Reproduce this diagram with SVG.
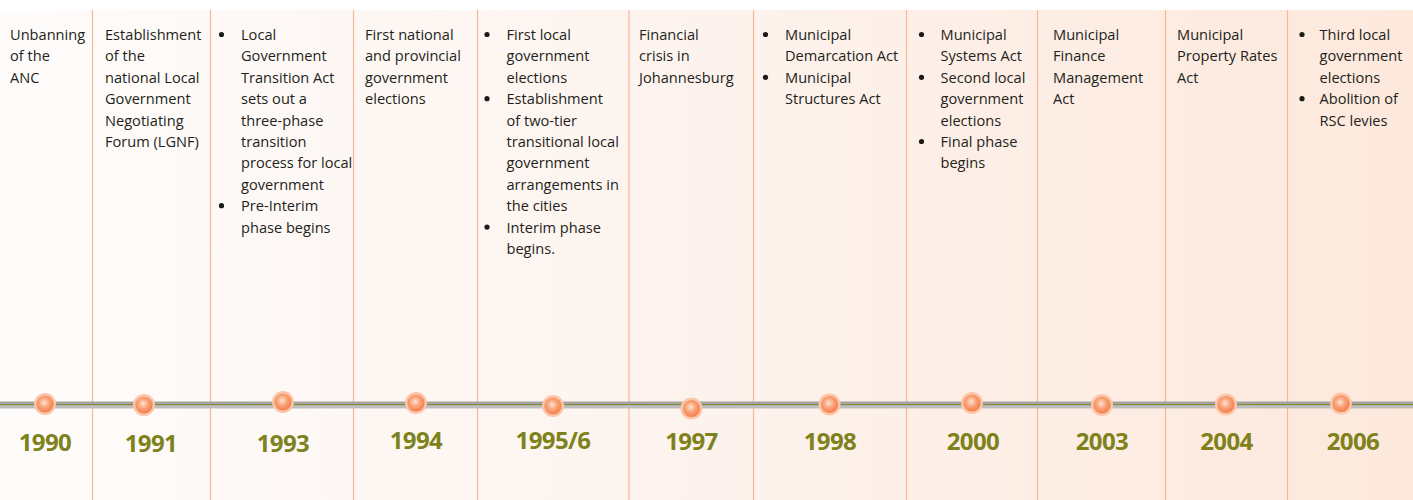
<svg xmlns="http://www.w3.org/2000/svg" width="1413" height="500" viewBox="0 0 1413 500">
  <defs>
    <linearGradient id="bg" x1="0" y1="0" x2="1" y2="0">
      <stop offset="0" stop-color="#fefcfb"/>
      <stop offset="0.45" stop-color="#fdf4ef"/>
      <stop offset="1" stop-color="#fde8dc"/>
    </linearGradient>
    <linearGradient id="bar" x1="0" y1="0" x2="0" y2="1">
      <stop offset="0" stop-color="#a3a3a3"/>
      <stop offset="0.42" stop-color="#a6a6a6"/>
      <stop offset="0.42" stop-color="#82892f"/>
      <stop offset="0.56" stop-color="#82892f"/>
      <stop offset="0.56" stop-color="#b6b6b6"/>
      <stop offset="1" stop-color="#c2c2c2"/>
    </linearGradient>
    <radialGradient id="knob" cx="0.45" cy="0.42" r="0.6">
      <stop offset="0" stop-color="#fde3d3"/>
      <stop offset="0.45" stop-color="#f9a77e"/>
      <stop offset="1" stop-color="#f37a45"/>
    </radialGradient>
    <g id="marker">
      <circle r="11" fill="#fbc6a9"/>
      <circle r="8.6" fill="url(#knob)"/>
    </g>
  </defs>
  <style>
    .t { font-family: "Open Sans", "Liberation Sans", sans-serif; font-size: 14.6px; fill: #231f20; }
    .yr { font-family: "Open Sans", "Liberation Sans", sans-serif; font-size: 24px; font-weight: bold; fill: #7d821c; text-anchor: middle; letter-spacing: -0.6px; }
    .div { stroke: #f9b595; stroke-width: 1.2; }
    .dot { fill: #1a1a1a; }
  </style>

  <!-- backdrop -->
  <rect x="0" y="0" width="1413" height="500" fill="#ffffff"/>
  <rect x="0" y="10" width="1413" height="490" fill="url(#bg)"/>

  <!-- column dividers -->
  <g id="dividers">
    <line class="div" x1="92.5" y1="10" x2="92.5" y2="500"/>
    <line class="div" x1="210.5" y1="10" x2="210.5" y2="500"/>
    <line class="div" x1="353.5" y1="10" x2="353.5" y2="500"/>
    <line class="div" x1="477.5" y1="10" x2="477.5" y2="500"/>
    <line class="div" x1="629" y1="10" x2="629" y2="500"/>
    <line class="div" x1="753.5" y1="10" x2="753.5" y2="500"/>
    <line class="div" x1="906.5" y1="10" x2="906.5" y2="500"/>
    <line class="div" x1="1037.5" y1="10" x2="1037.5" y2="500"/>
    <line class="div" x1="1165.5" y1="10" x2="1165.5" y2="500"/>
    <line class="div" x1="1287.5" y1="10" x2="1287.5" y2="500"/>
  </g>

  <!-- timeline axis -->
  <g id="connectors">
    <rect x="0" y="401.5" width="1413" height="7" fill="url(#bar)"/>
  </g>

  <g id="n1990">
    <text class="t" x="10" y="40">Unbanning</text>
    <text class="t" x="10" y="61.4">of the</text>
    <text class="t" x="10" y="82.8">ANC</text>
    <use href="#marker" x="45" y="404"/>
    <text class="yr" x="45" y="451">1990</text>
  </g>

  <g id="n1991">
    <text class="t" x="105" y="40">Establishment</text>
    <text class="t" x="105" y="61.4">of the</text>
    <text class="t" x="105" y="82.8">national Local</text>
    <text class="t" x="105" y="104.2">Government</text>
    <text class="t" x="105" y="125.6">Negotiating</text>
    <text class="t" x="105" y="147">Forum (LGNF)</text>
    <use href="#marker" x="144" y="405"/>
    <text class="yr" x="151" y="452">1991</text>
  </g>

  <g id="n1993">
    <circle class="dot" cx="221.5" cy="34.5" r="2.6"/>
    <text class="t" x="241" y="40">Local</text>
    <text class="t" x="241" y="61.4">Government</text>
    <text class="t" x="241" y="82.8">Transition Act</text>
    <text class="t" x="241" y="104.2">sets out a</text>
    <text class="t" x="241" y="125.6">three-phase</text>
    <text class="t" x="241" y="147">transition</text>
    <text class="t" x="241" y="168.4">process for local</text>
    <text class="t" x="241" y="189.8">government</text>
    <circle class="dot" cx="221.5" cy="205.7" r="2.6"/>
    <text class="t" x="241" y="211.2">Pre-Interim</text>
    <text class="t" x="241" y="232.6">phase begins</text>
    <use href="#marker" x="283" y="402"/>
    <text class="yr" x="283" y="452">1993</text>
  </g>

  <g id="n1994">
    <text class="t" x="365" y="40">First national</text>
    <text class="t" x="365" y="61.4">and provincial</text>
    <text class="t" x="365" y="82.8">government</text>
    <text class="t" x="365" y="104.2">elections</text>
    <use href="#marker" x="416" y="403"/>
    <text class="yr" x="416" y="449">1994</text>
  </g>

  <g id="n1995">
    <circle class="dot" cx="487" cy="34.5" r="2.6"/>
    <text class="t" x="506.5" y="40">First local</text>
    <text class="t" x="506.5" y="61.4">government</text>
    <text class="t" x="506.5" y="82.8">elections</text>
    <circle class="dot" cx="487" cy="98.7" r="2.6"/>
    <text class="t" x="506.5" y="104.2">Establishment</text>
    <text class="t" x="506.5" y="125.6">of two-tier</text>
    <text class="t" x="506.5" y="147">transitional local</text>
    <text class="t" x="506.5" y="168.4">government</text>
    <text class="t" x="506.5" y="189.8">arrangements in</text>
    <text class="t" x="506.5" y="211.2">the cities</text>
    <circle class="dot" cx="487" cy="227.1" r="2.6"/>
    <text class="t" x="506.5" y="232.6">Interim phase</text>
    <text class="t" x="506.5" y="254">begins.</text>
    <use href="#marker" x="553" y="406"/>
    <text class="yr" x="553" y="449">1995/6</text>
  </g>

  <g id="n1997">
    <text class="t" x="639" y="40">Financial</text>
    <text class="t" x="639" y="61.4">crisis in</text>
    <text class="t" x="639" y="82.8">Johannesburg</text>
    <use href="#marker" x="691.5" y="408.5"/>
    <text class="yr" x="691.5" y="450">1997</text>
  </g>

  <g id="n1998">
    <circle class="dot" cx="765.5" cy="34.5" r="2.6"/>
    <text class="t" x="785" y="40">Municipal</text>
    <text class="t" x="785" y="61.4">Demarcation Act</text>
    <circle class="dot" cx="765.5" cy="77.3" r="2.6"/>
    <text class="t" x="785" y="82.8">Municipal</text>
    <text class="t" x="785" y="104.2">Structures Act</text>
    <use href="#marker" x="829.5" y="404.5"/>
    <text class="yr" x="830" y="450">1998</text>
  </g>

  <g id="n2000">
    <circle class="dot" cx="921.5" cy="34.5" r="2.6"/>
    <text class="t" x="940.5" y="40">Municipal</text>
    <text class="t" x="940.5" y="61.4">Systems Act</text>
    <circle class="dot" cx="921.5" cy="77.3" r="2.6"/>
    <text class="t" x="940.5" y="82.8">Second local</text>
    <text class="t" x="940.5" y="104.2">government</text>
    <text class="t" x="940.5" y="125.6">elections</text>
    <circle class="dot" cx="921.5" cy="141.5" r="2.6"/>
    <text class="t" x="940.5" y="147">Final phase</text>
    <text class="t" x="940.5" y="168.4">begins</text>
    <use href="#marker" x="972" y="403"/>
    <text class="yr" x="973" y="450">2000</text>
  </g>

  <g id="n2003">
    <text class="t" x="1053" y="40">Municipal</text>
    <text class="t" x="1053" y="61.4">Finance</text>
    <text class="t" x="1053" y="82.8">Management</text>
    <text class="t" x="1053" y="104.2">Act</text>
    <use href="#marker" x="1102" y="405"/>
    <text class="yr" x="1102" y="450">2003</text>
  </g>

  <g id="n2004">
    <text class="t" x="1177" y="40">Municipal</text>
    <text class="t" x="1177" y="61.4">Property Rates</text>
    <text class="t" x="1177" y="82.8">Act</text>
    <use href="#marker" x="1226" y="404.5"/>
    <text class="yr" x="1226.5" y="450">2004</text>
  </g>

  <g id="n2006">
    <circle class="dot" cx="1302" cy="34.5" r="2.6"/>
    <text class="t" x="1319.5" y="40">Third local</text>
    <text class="t" x="1319.5" y="61.4">government</text>
    <text class="t" x="1319.5" y="82.8">elections</text>
    <circle class="dot" cx="1302" cy="98.7" r="2.6"/>
    <text class="t" x="1319.5" y="104.2">Abolition of</text>
    <text class="t" x="1319.5" y="125.6">RSC levies</text>
    <use href="#marker" x="1341" y="403.5"/>
    <text class="yr" x="1353" y="450">2006</text>
  </g>
</svg>
